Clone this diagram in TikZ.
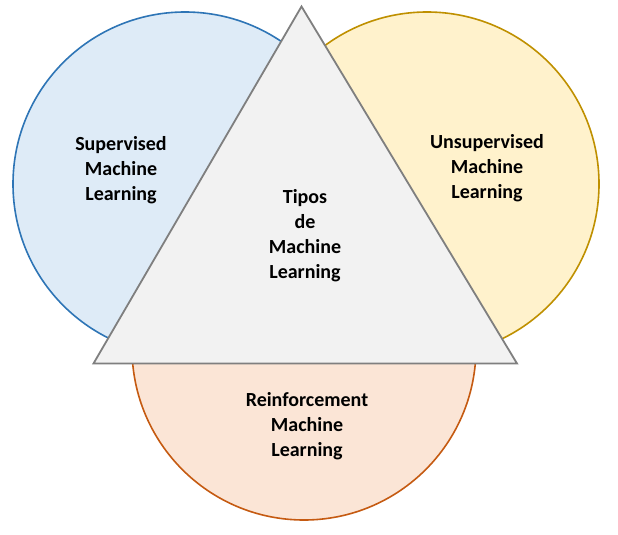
\documentclass[tikz,border=0pt]{standalone}
\usepackage{fontspec}
\setmainfont{Carlito}
\definecolor{bluefill}{HTML}{DEEBF7}
\definecolor{blueline}{HTML}{2E75B6}
\definecolor{yelfill}{HTML}{FFF2CC}
\definecolor{yelline}{HTML}{BF9000}
\definecolor{orfill}{HTML}{FBE5D6}
\definecolor{orline}{HTML}{C55A11}
\definecolor{trifill}{HTML}{F2F2F2}
\definecolor{triline}{HTML}{7F7F7F}
\begin{document}
\begin{tikzpicture}[x=1pt,y=-1pt,
  circ/.style={line width=1.6pt},
  lbl/.style={align=center,font=\fontsize{20}{25}\selectfont\bfseries,inner sep=0pt}]
\useasboundingbox (0,0) rectangle (618,535);
\fill[white] (0,0) rectangle (618,535);
\draw[circ,draw=blueline,fill=bluefill] (185,184) circle[radius=172];
\draw[circ,draw=yelline,fill=yelfill] (427,184) circle[radius=172];
\draw[circ,draw=orline,fill=orfill] (304,348) circle[radius=172];
\coordinate (apex) at (301.5,6.5);
\coordinate (bl) at (93.5,363.5);
\coordinate (br) at (517,363.5);
\draw[line width=1.8pt,draw=triline,fill=trifill,line join=miter] (apex) -- (br) -- (bl) -- cycle;
\node[lbl] (sup) at (121,170) {Supervised\\Machine\\Learning};
\node[lbl] (uns) at (487,168) {Unsupervised\\Machine\\Learning};
\node[lbl] (rei) at (307,426) {Reinforcement\\Machine\\Learning};
\node[lbl] (tip) at (305,235.5) {Tipos\\de\\Machine\\Learning};
\end{tikzpicture}
\end{document}
